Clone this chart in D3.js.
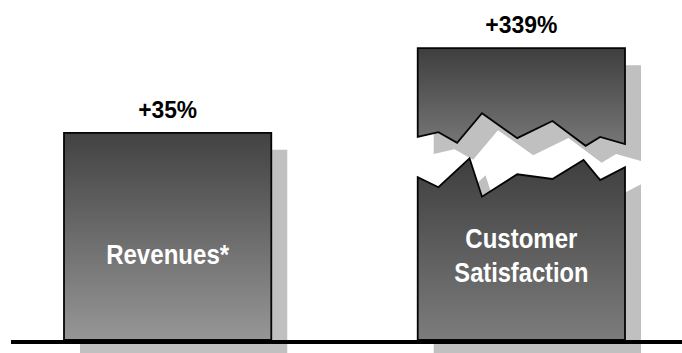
<!DOCTYPE html>
<html>
<head>
<meta charset="utf-8">
<script src="https://cdn.jsdelivr.net/npm/d3@7"></script>
<style>
  html, body { margin: 0; padding: 0; background: #ffffff; }
  svg { display: block; }
  text { font-family: "Liberation Sans", Arial, sans-serif; font-weight: bold; }
</style>
</head>
<body>
<div id="chart"></div>
<script>
// ---- data ----
const categories = ["Revenues*", "Customer Satisfaction"];
const growthLabels = ["+35%", "+339%"];
const growthValues = [35, 339];          // % growth
const displayCap = 49.3;                 // broken bar is drawn up to this value
// jagged break of the capped bar: x as fraction of bar width, y in value units
const breakUpperX = [0, 0.10, 0.19, 0.31, 0.48, 0.65, 0.81, 0.88, 1];
const breakUpperY = [34.3, 35.1, 33.3, 38.3, 34.1, 37.0, 32.8, 34.3, 33.1];
const breakLowerX = [0, 0.10, 0.25, 0.31, 0.48, 0.65, 0.80, 0.88, 1];
const breakLowerY = [27.5, 25.8, 30.7, 24.2, 28.0, 27.2, 30.4, 27.0, 29.2];
const labelLines = [["Revenues*"], ["Customer", "Satisfaction"]];

// ---- layout ----
const W = 682, H = 353;
const svg = d3.select("#chart").append("svg").attr("width", W).attr("height", H);

const x = d3.scaleBand().domain(categories).range([64, 625]).paddingInner(0.414).paddingOuter(0);
const y = d3.scaleLinear().domain([0, 50]).range([340, 44]);

const shadowDX = 16, shadowDY = 17;
const defs = svg.append("defs");
function grad(id, c0, c1) {
  const g = defs.append("linearGradient").attr("id", id)
    .attr("x1", 0).attr("y1", 0).attr("x2", 0).attr("y2", 1);
  g.append("stop").attr("offset", 0).attr("stop-color", c0);
  g.append("stop").attr("offset", 1).attr("stop-color", c1);
}
grad("gRev", "#424242", "#969696");
grad("gUp", "#3e3e3e", "#777777");
grad("gLow", "#3e3e3e", "#7c7c7c");

// build shapes
const shapes = [];
categories.forEach((c, i) => {
  const x0 = x(c), x1 = x(c) + x.bandwidth(), bw = x.bandwidth();
  const v = growthValues[i];
  if (v <= displayCap) {
    shapes.push({ pts: [[x0, y(0)], [x0, y(v)], [x1, y(v)], [x1, y(0)]], fill: "url(#gRev)" });
  } else {
    const up = [[x0, y(displayCap)], [x1, y(displayCap)]];
    for (let k = breakUpperX.length - 1; k >= 0; k--) up.push([x0 + breakUpperX[k] * bw, y(breakUpperY[k])]);
    shapes.push({ pts: up, fill: "url(#gUp)" });
    const low = [[x0, y(0)]];
    for (let k = 0; k < breakLowerX.length; k++) low.push([x0 + breakLowerX[k] * bw, y(breakLowerY[k])]);
    low.push([x1, y(0)]);
    shapes.push({ pts: low, fill: "url(#gLow)" });
  }
});

const line = d3.line();
// shadows
svg.append("g").selectAll("path").data(shapes).join("path")
  .attr("d", d => line(d.pts) + "Z")
  .attr("transform", `translate(${shadowDX},${shadowDY})`)
  .attr("fill", "#c0c0c0");
// bars
svg.append("g").selectAll("path").data(shapes).join("path")
  .attr("d", d => line(d.pts) + "Z")
  .attr("fill", d => d.fill)
  .attr("stroke", "#050505")
  .attr("stroke-width", 1.8)
  .attr("stroke-linejoin", "miter");

// baseline axis
svg.append("line")
  .attr("x1", 11).attr("x2", W)
  .attr("y1", y(0) + 2).attr("y2", y(0) + 2)
  .attr("stroke", "#000").attr("stroke-width", 4);

// growth labels
categories.forEach((c, i) => {
  const cx = x(c) + x.bandwidth() / 2;
  const topV = Math.min(growthValues[i], displayCap);
  svg.append("text")
    .attr("x", cx).attr("y", y(topV) - 15)
    .attr("text-anchor", "middle")
    .attr("font-size", 24)
    .attr("fill", "#000")
    .attr("textLength", i === 0 ? 59 : 72)
    .attr("lengthAdjust", "spacingAndGlyphs")
    .text(growthLabels[i]);
});

// category labels inside bars
const labelSpecs = [
  { base: [264], len: [123] },
  { base: [248, 282], len: [112, 134] }
];
categories.forEach((c, i) => {
  const cx = x(c) + x.bandwidth() / 2;
  labelLines[i].forEach((t, j) => {
    svg.append("text")
      .attr("x", cx).attr("y", labelSpecs[i].base[j])
      .attr("text-anchor", "middle")
      .attr("font-size", 27)
      .attr("fill", "#ffffff")
      .attr("textLength", labelSpecs[i].len[j])
      .attr("lengthAdjust", "spacingAndGlyphs")
      .text(t);
  });
});
</script>
</body>
</html>
